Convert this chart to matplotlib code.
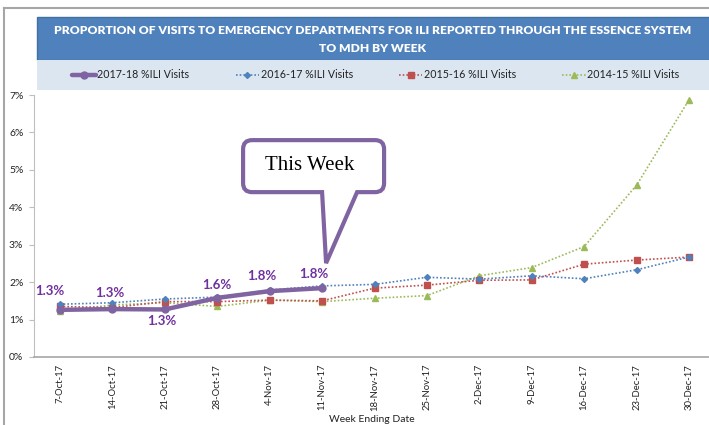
import matplotlib
matplotlib.use("Agg")
import matplotlib.pyplot as plt
from matplotlib.patches import Rectangle, PathPatch
from matplotlib.path import Path
from matplotlib.lines import Line2D
from matplotlib.transforms import IdentityTransform

weeks = ["7-Oct-17", "14-Oct-17", "21-Oct-17", "28-Oct-17", "4-Nov-17", "11-Nov-17",
         "18-Nov-17", "25-Nov-17", "2-Dec-17", "9-Dec-17", "16-Dec-17", "23-Dec-17", "30-Dec-17"]
s2017 = [1.26, 1.28, 1.27, 1.58, 1.76, 1.84]
s2016 = [1.41, 1.45, 1.55, 1.60, 1.79, 1.90, 1.94, 2.13, 2.08, 2.17, 2.09, 2.33, 2.67]
s2015 = [1.35, 1.32, 1.48, 1.48, 1.52, 1.50, 1.84, 1.92, 2.05, 2.06, 2.48, 2.59, 2.67]
s2014 = [1.23, 1.39, 1.45, 1.35, 1.52, 1.48, 1.57, 1.64, 2.17, 2.39, 2.95, 4.59, 6.87]
labels = ["2017-18 %ILI Visits", "2016-17 %ILI Visits", "2015-16 %ILI Visits", "2014-15 %ILI Visits"]
yticks = [0, 1, 2, 3, 4, 5, 6, 7]
title1 = "PROPORTION OF VISITS TO EMERGENCY DEPARTMENTS FOR ILI REPORTED THROUGH THE ESSENCE SYSTEM"
title2 = "TO MDH BY WEEK"

W, H = 709, 425
fig = plt.figure(figsize=(W / 100, H / 100), dpi=100)
fig.patch.set_facecolor("white")
renderer = fig.canvas.get_renderer()

def fx(px):
    return px / W

def fy(py):
    return 1 - py / H

# outer border
fig.add_artist(Line2D([fx(4), fx(712)], [fy(8), fy(8)], color="#a6a6a6", lw=1.5))
fig.add_artist(Line2D([fx(4), fx(4)], [fy(8), fy(430)], color="#a6a6a6", lw=1.5))

# title box and legend band
fig.add_artist(Rectangle((fx(37), fy(60)), fx(680), fy(17) - fy(60), facecolor="#4f81bd",
                         edgecolor="#41719c", lw=1.0))
fig.add_artist(Rectangle((fx(37), fy(90)), fx(680), fy(60) - fy(90), facecolor="#dce6f1",
                         edgecolor="none"))

# fit title line 1 to ~640 px width
t1 = fig.text(fx(373), fy(31), title1, ha="center", va="center", color="white",
              fontsize=10, fontweight="heavy", family="Lato")
w = t1.get_window_extent(renderer).width
fs = 10 * 640 / w
t1.set_fontsize(fs)
fig.text(fx(373), fy(48), title2, ha="center", va="center", color="white",
         fontsize=fs, fontweight="heavy", family="Lato")

# axes
ax = fig.add_axes([fx(33.8), 1 - 357 / H, 681.4 / W, (357 - 95) / H])
x = list(range(len(weeks)))
ax.set_xlim(-0.5, len(weeks) - 0.5)
ax.set_ylim(0, 7)

l2014, = ax.plot(x, s2014, color="#9bbb59", lw=1.2, ls=(0, (1, 1.2)), marker="^", ms=4,
                 mfc="#9bbb59", mec="#9bbb59", label=labels[3])
l2015, = ax.plot(x, s2015, color="#c0504d", lw=1.2, ls=(0, (1, 1.2)), marker="s", ms=4.5,
                 mfc="#c0504d", mec="#c0504d", label=labels[2])
l2016, = ax.plot(x, s2016, color="#4f81bd", lw=1.2, ls=(0, (1, 1.2)), marker="D", ms=3,
                 mfc="#4f81bd", mec="#4f81bd", label=labels[1])
l2017, = ax.plot(x[:len(s2017)], s2017, color="#8064a2", lw=3.2, marker="o", ms=5,
                 mfc="#8064a2", mec="#8064a2", label=labels[0], solid_capstyle="round")

offsets = [(-10, 19), (-3, 16), (-3, -12), (0, 13), (-8, 15), (-8, 14)]
for i, v in enumerate(s2017):
    ox, oy = offsets[i]
    ax.annotate(f"{v:.1f}%", (i, v), xytext=(ox, oy), textcoords="offset pixels",
                ha="center", va="center", color="#7030a0", fontsize=9.5,
                fontweight="bold", family="Lato")

ax.set_yticks(yticks)
ax.set_yticklabels([f"{t}%" for t in yticks])
ax.set_xticks(x)
ax.set_xticklabels(weeks, rotation=90)
ax.tick_params(axis="y", length=3.5, width=0.8, color="#bfbfbf", pad=4,
               labelsize=7.5, labelcolor="#222222")
ax.tick_params(axis="x", length=0, pad=5, labelsize=6.8, labelcolor="#222222")
for lab in ax.get_xticklabels() + ax.get_yticklabels():
    lab.set_family("Lato")
for s in ["top", "right"]:
    ax.spines[s].set_visible(False)
ax.spines["left"].set_color("#bfbfbf")
ax.spines["bottom"].set_color("#a6a6a6")
ax.spines["bottom"].set_linewidth(1.2)

fig.text(fx(372), fy(414.5), "Week Ending Date", ha="center", va="top", fontsize=7.5,
         family="Lato", color="#222222")

# legend
leg = fig.legend(handles=[l2017, l2016, l2015, l2014], labels=labels, loc="center",
                 bbox_to_anchor=(fx(376), fy(75)), ncol=4, frameon=False,
                 prop={"family": "Lato", "size": 7.7}, handlelength=2.2,
                 handletextpad=0.15, columnspacing=4.3, numpoints=1)
for t in leg.get_texts():
    t.set_color("#222222")

# callout "This Week" anchored at the latest point
tx, ty = ax.transData.transform((5, s2017[5]))
tipx, tipy = tx + 4, ty + 25

def P(dx, dy):
    return (tipx + dx, tipy + dy)

bl, br = 244 - 327, 385 - 327
bt, bb = 262 - 139, 262 - 191
r = 9
q1, q2 = 323 - 327, 358 - 327
verts = [P(q1, bb), P(0, 0), P(q2, bb), P(br - r, bb), P(br, bb), P(br, bb + r),
         P(br, bt - r), P(br, bt), P(br - r, bt), P(bl + r, bt), P(bl, bt), P(bl, bt - r),
         P(bl, bb + r), P(bl, bb), P(bl + r, bb), P(q1, bb)]
codes = [Path.MOVETO, Path.LINETO, Path.LINETO, Path.LINETO, Path.CURVE3, Path.CURVE3,
         Path.LINETO, Path.CURVE3, Path.CURVE3, Path.LINETO, Path.CURVE3, Path.CURVE3,
         Path.LINETO, Path.CURVE3, Path.CURVE3, Path.CLOSEPOLY]
bubble = PathPatch(Path(verts, codes), facecolor="white", edgecolor="#8064a2", lw=3.0,
                   transform=IdentityTransform(), joinstyle="miter", zorder=10)
fig.add_artist(bubble)
cx, cy = P((bl + br) / 2 - 4, (bt + bb) / 2 + 1)
fig.text(cx / W, cy / H, "This Week", ha="center", va="center", fontsize=15,
         family="Liberation Serif", color="black", zorder=11)

fig.savefig("out.png", dpi=100)
